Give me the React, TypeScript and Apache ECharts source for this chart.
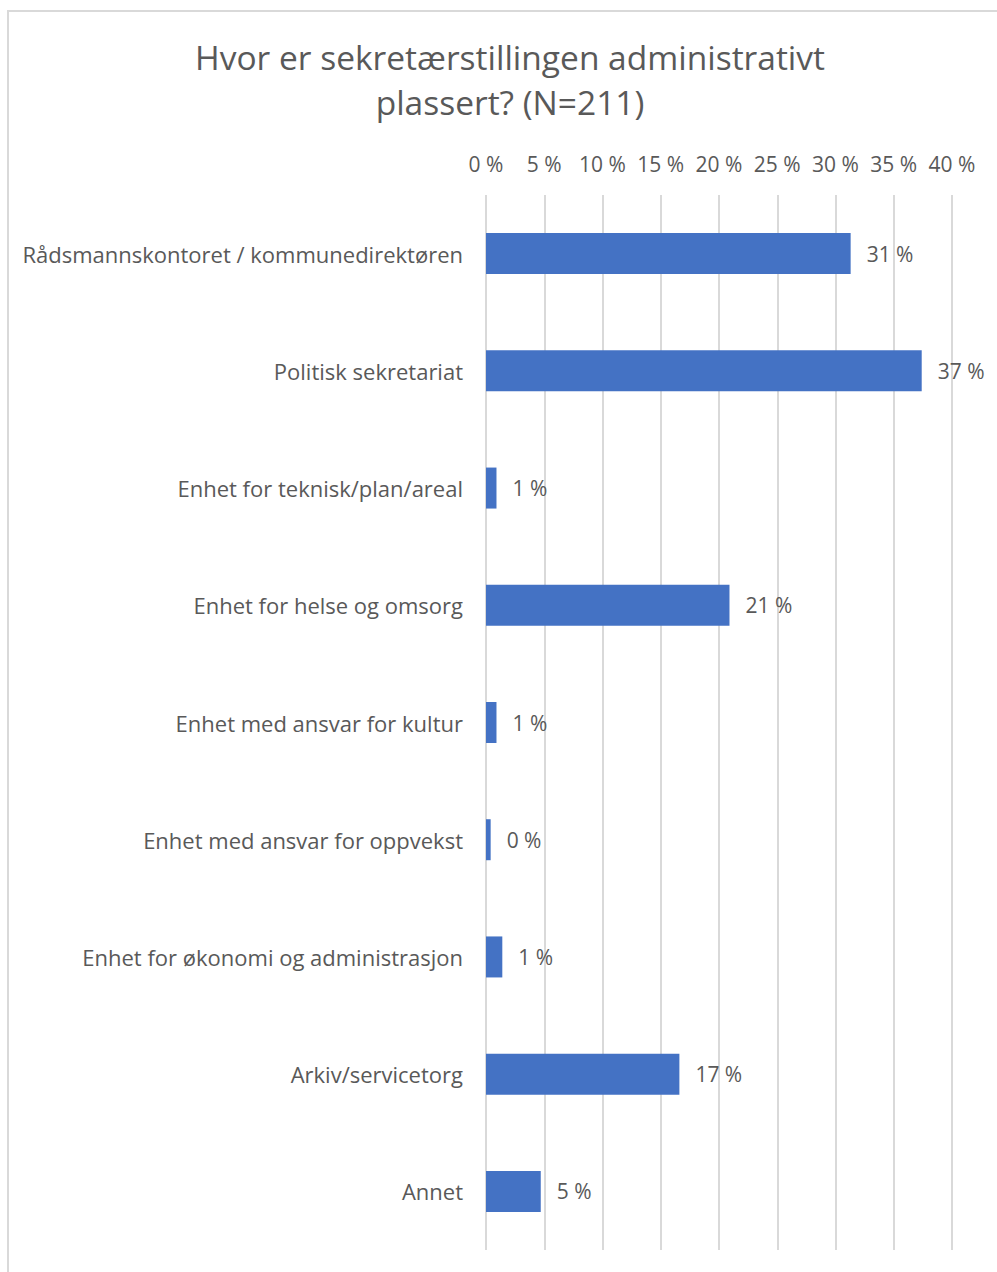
import React, { useEffect, useRef } from "react";
import * as echarts from "echarts";

const titleText = "Hvor er sekretærstillingen administrativt\nplassert? (N=211)";
const categories = [
  "Rådsmannskontoret / kommunedirektøren",
  "Politisk sekretariat",
  "Enhet for teknisk/plan/areal",
  "Enhet for helse og omsorg",
  "Enhet med ansvar for kultur",
  "Enhet med ansvar for oppvekst",
  "Enhet for økonomi og administrasjon",
  "Arkiv/servicetorg",
  "Annet",
];
const values = [31.3, 37.4, 0.9, 20.9, 0.9, 0.4, 1.4, 16.6, 4.7];

const FONT = "Open Sans";
const GREY = "#595959";

export default function App() {
  const ref = useRef<HTMLDivElement>(null);
  useEffect(() => {
    if (!ref.current) return;
    const chart = echarts.init(ref.current, undefined, { renderer: "svg" });
    chart.setOption({
      animation: false,
      backgroundColor: "#ffffff",
      textStyle: { fontFamily: FONT },
      title: {
        text: titleText,
        left: 505,
        top: 29,
        textAlign: "center",
        textStyle: {
          fontFamily: FONT,
          fontSize: 33.5,
          fontWeight: "normal",
          color: GREY,
          lineHeight: 45,
        },
      },
      graphic: [
        {
          type: "rect",
          shape: { x: 8, y: 11, width: 1010, height: 1300 },
          style: { fill: "none", stroke: "#d9d9d9", lineWidth: 2 },
          silent: true,
        },
      ],
      grid: { left: 486, right: 45, top: 195, bottom: 22, containLabel: false },
      xAxis: {
        type: "value",
        position: "top",
        min: 0,
        max: 40,
        interval: 5,
        axisLine: { show: false },
        axisTick: { show: false },
        axisLabel: {
          formatter: "{value} %",
          color: GREY,
          fontSize: 21,
          fontFamily: FONT,
          margin: 21,
        },
        splitLine: { lineStyle: { color: "#d9d9d9", width: 2 } },
      },
      yAxis: {
        type: "category",
        inverse: true,
        data: categories,
        axisLine: { show: false },
        axisTick: { show: false },
        axisLabel: { color: GREY, fontSize: 22, fontFamily: FONT, margin: 23 },
      },
      series: [
        {
          type: "bar",
          data: values,
          barWidth: 41,
          itemStyle: { color: "#4472C4" },
          label: {
            show: true,
            position: "right",
            distance: 16,
            color: GREY,
            fontSize: 21,
            fontFamily: FONT,
            formatter: (p: any) => Math.round(p.value) + " %",
          },
        },
      ],
    });
    return () => chart.dispose();
  }, []);
  return (
    <div
      ref={ref}
      style={{ position: "absolute", left: 0, top: 0, width: 997, height: 1272 }}
    />
  );
}
